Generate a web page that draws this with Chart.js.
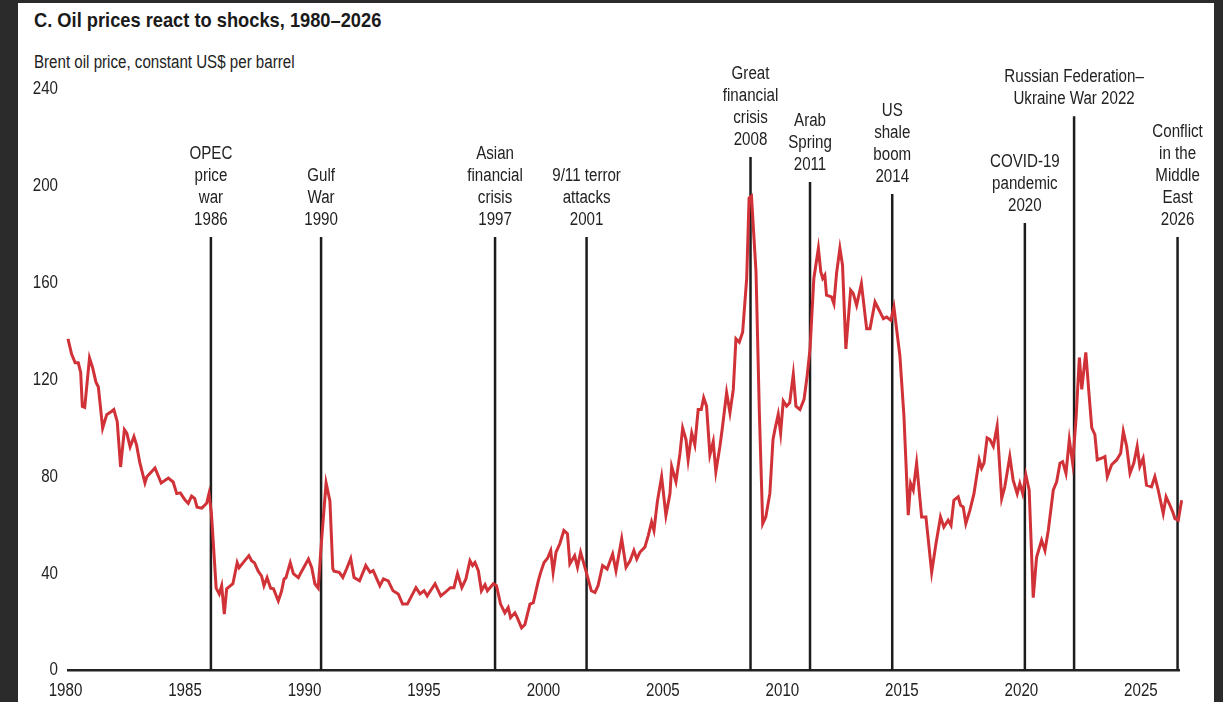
<!DOCTYPE html>
<html>
<head>
<meta charset="utf-8">
<title>Oil prices react to shocks</title>
<script src="https://cdn.jsdelivr.net/npm/chart.js@4.4.1/dist/chart.umd.min.js"></script>
<style>
    html, body { margin: 0; padding: 0; width: 1223px; height: 702px; overflow: hidden; background: #2b2b2b; }
    #panel { position: absolute; left: 18px; top: 3px; width: 1196px; height: 699px; background: #fff; }
    .txt { position: absolute; left: 34px; line-height: 1; white-space: nowrap; transform-origin: 0 0; font-family: "Liberation Sans", Arial, sans-serif; color: #1a1a1a; }
    #title { top: 9px; font-size: 21px; font-weight: bold; transform: scaleX(0.87); }
    #sub { top: 53px; font-size: 18px; color: #222; transform: scaleX(0.84); }
    #chart { position: absolute; left: 0; top: 0; }
</style>
</head>
<body>
<div id="panel"></div>
<div id="title" class="txt">C. Oil prices react to shocks, 1980–2026</div>
<div id="sub" class="txt">Brent oil price, constant US$ per barrel</div>
<canvas id="chart" width="1223" height="702"></canvas>

<script>
// Brent price (year as decimal, constant US$)
const priceYears = [
    1980.0, 1980.15, 1980.3, 1980.43, 1980.53, 1980.6, 1980.7, 1980.9, 1981.03, 1981.17, 1981.27, 1981.45, 1981.62, 1981.83, 1981.92,
    1982.06, 1982.2, 1982.36, 1982.46, 1982.6, 1982.76, 1982.87, 1983.0, 1983.22, 1983.3, 1983.64, 1983.9, 1984.2, 1984.4, 1984.55,
    1984.7, 1984.9, 1985.03, 1985.17, 1985.3, 1985.4, 1985.6, 1985.8, 1985.9, 1986.0, 1986.2, 1986.33, 1986.43, 1986.54, 1986.64,
    1986.8, 1986.9, 1987.08, 1987.16, 1987.33, 1987.57, 1987.68, 1987.8, 1987.96, 1988.1, 1988.2, 1988.33, 1988.48, 1988.6, 1988.8,
    1988.94, 1989.04, 1989.12, 1989.3, 1989.43, 1989.64, 1989.78, 1990.06, 1990.2, 1990.33, 1990.47, 1990.6, 1990.8, 1990.96, 1991.08,
    1991.13, 1991.35, 1991.5, 1991.66, 1991.83, 1991.97, 1992.2, 1992.46, 1992.64, 1992.77, 1993.05, 1993.2, 1993.4, 1993.6, 1993.82,
    1994.0, 1994.2, 1994.38, 1994.56, 1994.73, 1994.9, 1995.03, 1995.15, 1995.36, 1995.6, 1995.78, 1996.0, 1996.15, 1996.3, 1996.48,
    1996.65, 1996.82, 1996.93, 1997.03, 1997.17, 1997.3, 1997.45, 1997.55, 1997.8, 1997.93, 1998.1, 1998.28, 1998.42, 1998.52, 1998.7,
    1998.8, 1998.98, 1999.12, 1999.33, 1999.47, 1999.68, 1999.78, 1999.92, 2000.06, 2000.2, 2000.3, 2000.42, 2000.58, 2000.75, 2000.9,
    2001.0, 2001.2, 2001.32, 2001.45, 2001.67, 2001.9, 2002.05, 2002.18, 2002.37, 2002.56, 2002.79, 2002.93, 2003.17, 2003.35, 2003.52,
    2003.68, 2003.8, 2003.93, 2004.14, 2004.28, 2004.42, 2004.52, 2004.66, 2004.84, 2005.02, 2005.19, 2005.26, 2005.44, 2005.61, 2005.72,
    2005.86, 2005.95, 2006.1, 2006.23, 2006.37, 2006.5, 2006.6, 2006.72, 2006.86, 2007.0, 2007.11, 2007.28, 2007.39, 2007.56, 2007.7,
    2007.84, 2007.95, 2008.09, 2008.23, 2008.4, 2008.5, 2008.6, 2008.79, 2008.93, 2009.07, 2009.2, 2009.37, 2009.5, 2009.58, 2009.72,
    2009.82, 2009.93, 2010.07, 2010.2, 2010.35, 2010.46, 2010.63, 2010.8, 2010.93, 2011.05, 2011.21, 2011.4, 2011.5, 2011.58, 2011.67,
    2011.74, 2011.95, 2012.05, 2012.16, 2012.3, 2012.41, 2012.55, 2012.75, 2012.86, 2013.0, 2013.2, 2013.42, 2013.56, 2013.77, 2013.95,
    2014.05, 2014.12, 2014.26, 2014.43, 2014.56, 2014.81, 2014.98, 2015.16, 2015.26, 2015.37, 2015.51, 2015.72, 2015.9, 2016.14, 2016.32,
    2016.51, 2016.65, 2016.83, 2016.95, 2017.07, 2017.25, 2017.35, 2017.46, 2017.57, 2017.74, 2017.91, 2018.02, 2018.13, 2018.23, 2018.33,
    2018.46, 2018.58, 2018.72, 2018.88, 2019.07, 2019.2, 2019.41, 2019.55, 2019.72, 2019.83, 2019.95, 2020.08, 2020.22, 2020.39, 2020.53,
    2020.74, 2020.88, 2021.02, 2021.23, 2021.37, 2021.51, 2021.62, 2021.76, 2021.9, 2022.04, 2022.18, 2022.32, 2022.42, 2022.59, 2022.72,
    2022.84, 2022.97, 2023.07, 2023.25, 2023.39, 2023.49, 2023.67, 2023.88, 2024.05, 2024.16, 2024.3, 2024.44, 2024.6, 2024.74, 2024.85,
    2024.99, 2025.13, 2025.34, 2025.48, 2025.62, 2025.83, 2025.95, 2026.11, 2026.23, 2026.32, 2026.46, 2026.6, 2026.7
];
const priceValues = [
    136.9, 130.6, 127, 127, 123, 109, 108.6, 129, 125, 119, 117, 100, 105.6, 107, 107.7,
    102.7, 84, 99.4, 98, 92.3, 96.5, 93, 86, 77.4, 80, 83.6, 77.4, 79.4, 77.8, 73,
    73.3, 70.3, 69, 72, 71, 67.4, 67, 69, 73, 65, 34, 31.6, 35, 23.3, 33.7,
    35, 35.8, 44.5, 42.4, 44.5, 47.4, 45.3, 44.5, 41, 39, 35, 38.3, 34, 33.7, 28.7,
    32.9, 37.8, 38.3, 44.5, 40, 38.3, 41, 46, 42.4, 35.8, 34, 52.4, 77.4, 70, 42,
    41, 40.5, 38.4, 42, 46.2, 38.4, 37, 43.3, 40.5, 41.2, 35, 37.8, 37, 32.9, 31.6,
    27.4, 27.4, 30.8, 34.2, 31.6, 32.9, 30.8, 32.6, 35.8, 30.8, 32.2, 34.2, 34.2, 40, 34.2,
    37.8, 45.3, 43.3, 44.6, 41.2, 32.9, 35.4, 32.9, 35.8, 35, 27.4, 23.8, 26, 21.8, 23.8,
    21.8, 17.6, 19, 27.4, 28, 37, 40.5, 44.6, 46.2, 49.5, 40.5, 48.8, 52.3, 57.8, 56.5,
    44, 47.4, 42.6, 48.8, 41.2, 32.9, 32.2, 35, 43.3, 41.9, 48.1, 41.2, 54.4, 42.6, 45.3,
    49.5, 46, 48.8, 50.9, 55.7, 61.3, 57.8, 69.6, 80, 64, 73, 84.2, 77.9, 89.7, 100.1,
    95.3, 86.9, 98, 93.2, 107.7, 107.7, 112.6, 109.1, 89, 94.5, 82, 92.5, 100.8, 114.7, 106.4,
    116, 136.9, 135.5, 139.6, 161.8, 195, 195.8, 164.6, 106.4, 60.6, 63.4, 73.1, 95.3, 99.4, 105.7,
    98, 111.2, 109.1, 110.5, 122.3, 109.1, 107.7, 111.9, 121.6, 132.7, 161.8, 174.3, 164.6, 161.8, 163.2,
    154.9, 154.2, 151.4, 163.9, 174.3, 167.3, 132.7, 157, 155.6, 150.7, 159.7, 141, 141, 152.1, 148.6,
    146.6, 145.2, 145.9, 144.5, 150, 129.9, 105, 64.1, 77.2, 74.5, 85.6, 63.4, 63.4, 40.5, 52.3,
    63.4, 59.2, 62, 59.9, 70.3, 71.7, 68.2, 67.5, 60.6, 66.1, 73, 80, 86.9, 83.5, 85.6,
    96, 95.3, 92.5, 100.8, 71, 75.8, 88.3, 78.6, 73, 77.2, 73, 80.7, 74.5, 30.1, 46.7,
    53.7, 49.5, 57.8, 74.5, 77.9, 85.6, 86.2, 81.4, 95.3, 85.6, 103.6, 129.2, 116, 131.3, 114.7,
    100.1, 97.3, 86.9, 87.6, 88.3, 80, 84.9, 86.9, 89.7, 98.7, 92.5, 81.4, 85.6, 92.5, 84.2,
    87.6, 76.5, 75.8, 80, 74.5, 64.8, 71.7, 68.2, 65.4, 62.7, 62, 70.3, 94.5
];

// shock markers: where the vertical rule stands and how high it reaches
const eventYears = [1985.98, 1990.59, 1997.87, 2001.7, 2008.56, 2011.05, 2014.49, 2020.04, 2022.1, 2026.43];
const eventTops = [178.9, 178.9, 178.9, 178.9, 211.9, 201.6, 196.7, 184.7, 228.8, 178.9];
const eventLabels = [
    ['OPEC', 'price', 'war', '1986'],
    ['Gulf', 'War', '1990'],
    ['Asian', 'financial', 'crisis', '1997'],
    ['9/11 terror', 'attacks', '2001'],
    ['Great', 'financial', 'crisis', '2008'],
    ['Arab', 'Spring', '2011'],
    ['US', 'shale', 'boom', '2014'],
    ['COVID-19', 'pandemic', '2020'],
    ['Russian Federation–', 'Ukraine War 2022'],
    ['Conflict', 'in the', 'Middle', 'East', '2026']
];

const xTickYears = [1980, 1985, 1990, 1995, 2000, 2005, 2010, 2015, 2020, 2025];
const yTickValues = [0, 40, 80, 120, 160, 200, 240];

const FONT = '18px "Liberation Sans", Arial, sans-serif';
const INK = '#222';
const SQUEEZE = 0.84;   // the source uses a narrow face, so the text is squeezed sideways

function buildDatasets() {
    const sets = [{
        label: 'Brent',
        data: priceYears.map((yr, i) => ({ x: yr, y: priceValues[i] })),
        borderColor: 'rgb(208, 50, 56)',
        borderWidth: 3,
        pointRadius: 0,
        tension: 0,
        clip: false,
        order: 0
    }];
    eventYears.forEach((yr, i) => {
        sets.push({
            label: 'event' + i,
            data: [{ x: yr, y: 0 }, { x: yr, y: eventTops[i] }],
            borderColor: '#1c1c1c',
            borderWidth: 2.5,
            pointRadius: 0,
            clip: false,
            order: 1
        });
    });
    return sets;
}

function narrowText(ctx, text, x, y, align) {
    ctx.save();
    ctx.translate(x, y);
    ctx.scale(SQUEEZE, 1);
    ctx.textAlign = align;
    ctx.fillText(text, 0, 0);
    ctx.restore();
}

// tick labels and shock captions, placed from the chart's own scales
const textLayer = {
    id: 'textLayer',
    afterDatasetsDraw(chart) {
        const ctx = chart.ctx;
        const xs = chart.scales.x, ys = chart.scales.y;
        ctx.save();
        ctx.font = FONT;
        ctx.fillStyle = INK;
        ctx.textBaseline = 'middle';

        xs.ticks.forEach(t => {
            narrowText(ctx, String(t.value), xs.getPixelForValue(t.value) - 2.5, xs.top + 21, 'center');
        });
        ys.ticks.forEach(t => {
            narrowText(ctx, String(t.value), chart.chartArea.left - 10, ys.getPixelForValue(t.value), 'right');
        });

        eventLabels.forEach((lines, i) => {
            const x = xs.getPixelForValue(eventYears[i]);
            const bottom = ys.getPixelForValue(eventTops[i]) - 17;
            lines.forEach((t, j) => {
                narrowText(ctx, t, x, bottom - (lines.length - 1 - j) * 22, 'center');
            });
        });
        ctx.restore();
    }
};

new Chart(document.getElementById('chart'), {
    type: 'line',
    data: { datasets: buildDatasets() },
    options: {
        responsive: false,
        animation: false,
        layout: { autoPadding: false, padding: { left: 18, right: 44, top: 89, bottom: 0 } },
        plugins: { legend: { display: false }, tooltip: { enabled: false } },
        scales: {
            x: {
                type: 'linear',
                min: 1980,
                max: 2026.49,
                afterBuildTicks: s => { s.ticks = xTickYears.map(v => ({ value: v })); },
                afterFit: s => { s.height = 31.5; },
                grid: { display: false },
                border: { display: true, color: INK, width: 2.5 },
                ticks: { display: false }
            },
            y: {
                min: 0,
                max: 240,
                afterBuildTicks: s => { s.ticks = yTickValues.map(v => ({ value: v })); },
                afterFit: s => { s.width = 50; },
                grid: { display: false },
                border: { display: false },
                ticks: { display: false }
            }
        }
    },
    plugins: [textLayer]
});
</script>
</body>
</html>
